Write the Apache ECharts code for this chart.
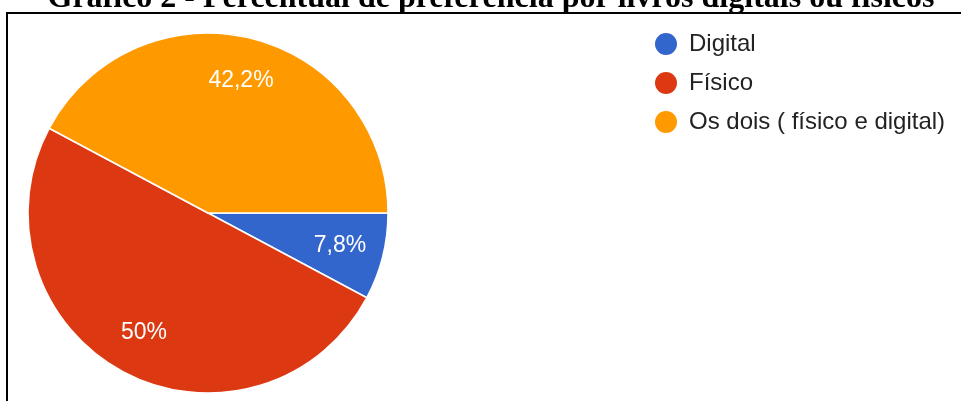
<!DOCTYPE html>
<html>
<head>
<meta charset="utf-8">
<script src="https://cdn.jsdelivr.net/npm/echarts@6/dist/echarts.min.js"></script>
<style>
	html, body { margin: 0; padding: 0; background: #fff; }
	#chart { width: 961px; height: 401px; }
</style>
</head>
<body>
<div id="chart"></div>
<script>
// categorias e valores (percentuais)
const categories = ['Digital', 'Físico', 'Os dois ( físico e digital)'];
const values = [7.8, 50, 42.2];
const colors = ['#3366cc', '#dc3912', '#ff9900'];
const titleText = 'Gráfico 2 - Percentual de preferência por livros digitais ou físicos';

const chart = echarts.init(document.getElementById('chart'));

const pieData = categories.map((name, i) => ({ name: name, value: values[i] }));

const options = {
	backgroundColor: '#fff',
	color: colors,
	animation: false,
	// moldura preta e título cortado no topo
	graphic: [
		{
			type: 'rect',
			shape: { x: 7, y: 13, width: 1000, height: 500 },
			style: { fill: 'none', stroke: '#000', lineWidth: 2 },
			silent: true,
		},
		{
			type: 'text',
			x: 491,
			y: -1,
			style: {
				text: titleText,
				font: 'bold 32px "Liberation Serif", "Times New Roman", serif',
				fill: '#000',
				align: 'center',
				verticalAlign: 'middle',
			},
			silent: true,
		},
	],
	legend: {
		orient: 'vertical',
		left: 648,
		top: 26,
		icon: 'circle',
		itemWidth: 24,
		itemHeight: 24,
		itemGap: 13,
		data: categories,
		textStyle: {
			fontFamily: '"Liberation Sans", Arial, sans-serif',
			fontSize: 24,
			color: '#222',
			padding: [0, 0, 0, 6],
		},
	},
	series: [
		{
			type: 'pie',
			center: [208, 213],
			radius: [0, 180],
			startAngle: 0,
			clockwise: true,
			data: pieData,
			label: { show: false },
			labelLine: { show: false },
			itemStyle: { borderColor: '#fff', borderWidth: 1.5 },
			emphasis: { disabled: true },
		},
		{
			// série só para posicionar os rótulos mais perto da borda
			type: 'pie',
			center: [208, 213],
			radius: [86, 180],
			startAngle: 0,
			clockwise: true,
			silent: true,
			data: pieData,
			itemStyle: { color: 'rgba(0,0,0,0)', borderWidth: 0 },
			labelLine: { show: false },
			emphasis: { disabled: true },
			label: {
				show: true,
				position: 'inside',
				color: '#fff',
				fontFamily: '"Liberation Sans", Arial, sans-serif',
				fontSize: 23,
				formatter: (p) => String(p.value).replace('.', ',') + '%',
			},
		},
	],
};
chart.setOption(options);
</script>
</body>
</html>
